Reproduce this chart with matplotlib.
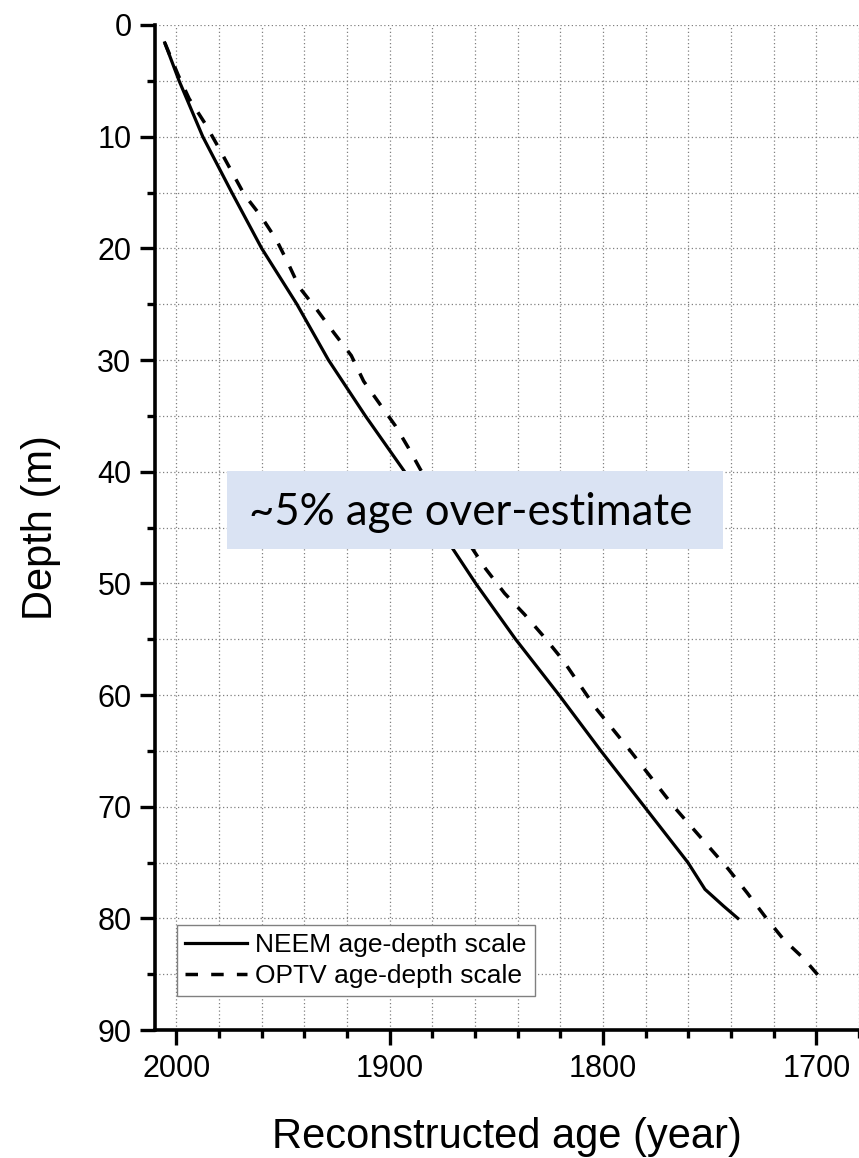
import matplotlib
matplotlib.use('Agg')
import matplotlib.pyplot as plt
from matplotlib.ticker import MultipleLocator
from matplotlib.patches import Rectangle

# NEEM age-depth scale (solid)
neem_depth = [1.6, 5, 10, 15, 20, 25, 30, 35, 40, 45, 50, 55, 60, 65, 70, 75, 77.4, 78.9, 80]
neem_age = [2005.4, 1998.7, 1987.6, 1974.0, 1960.0, 1943.5, 1928.7, 1911.4, 1893.0,
            1877.0, 1859.7, 1841.0, 1820.6, 1801.0, 1780.6, 1760.2, 1752.2, 1743.5, 1736.8]

# OPTV age-depth scale (dashed)
optv_depth = [1.6, 4.5, 6.6, 8.8, 10.9, 13, 15.2, 17.1, 19.2, 21.3, 23.5, 25.5, 27.6, 29.6,
              31.9, 34, 35.9, 37.9, 39.8, 48.7, 50.9, 52.8, 54.8, 56.9, 59, 61.2, 65, 70,
              75.6, 77.7, 79.8, 81.9, 83.6, 85.8]
optv_age = [2005.4, 1999.1, 1994.0, 1986.6, 1980.4, 1974.4, 1968.1, 1960.4, 1953.2, 1947.7,
            1942.3, 1934.1, 1926.0, 1918.0, 1912.2, 1904.4, 1897.3, 1891.1, 1885.6, 1855.0,
            1846.1, 1836.7, 1827.6, 1818.7, 1811.2, 1803.3, 1787.2, 1766.8,
            1741.2, 1732.5, 1724.2, 1715.3, 1705.9, 1696.0]

x_ticks = [2000, 1900, 1800, 1700]
y_ticks = [0, 10, 20, 30, 40, 50, 60, 70, 80, 90]

plt.rcParams['font.family'] = ['Liberation Sans', 'DejaVu Sans']

fig = plt.figure(figsize=(8.59, 11.58), dpi=100)
ax = fig.add_axes([155 / 859, 1 - 1030 / 1158, 704 / 859, 1005 / 1158])

ax.plot(neem_age, neem_depth, color='black', lw=2.3, label='NEEM age-depth scale', zorder=3)
ax.plot(optv_age, optv_depth, color='black', lw=2.5, ls=(0, (3.6, 3.8)),
        label='OPTV age-depth scale', zorder=3)

ax.set_xlim(2010, 1680)
ax.set_ylim(90, 0)
ax.set_xticks(x_ticks)
ax.set_yticks(y_ticks)
ax.xaxis.set_minor_locator(MultipleLocator(20))
ax.yaxis.set_minor_locator(MultipleLocator(5))
ax.grid(which='both', color='#808080', ls=(0, (1, 2)), lw=0.9, zorder=0)
ax.set_axisbelow(True)

for side in ['top', 'right']:
    ax.spines[side].set_visible(False)
for side in ['left', 'bottom']:
    ax.spines[side].set_linewidth(2.6)

ax.tick_params(which='major', direction='out', length=11, width=2.4, labelsize=22, pad=6)
ax.tick_params(which='minor', direction='out', length=6, width=2.4)

ax.set_xlabel('Reconstructed age (year)', fontsize=30, labelpad=24)
ax.set_ylabel('Depth (m)', fontsize=30, labelpad=26)

leg = ax.legend(loc='lower left', bbox_to_anchor=(0.031, 0.034), borderaxespad=0,
                fontsize=19, handlelength=2.35, handletextpad=0.33, labelspacing=0.25,
                borderpad=0.3, fancybox=False, framealpha=1)
leg.get_frame().set_edgecolor('#808080')
leg.get_frame().set_linewidth(1.0)

fig.patches.append(Rectangle((227.3 / 859, 1 - 549 / 1158), 495.4 / 859, 78.3 / 1158,
                             transform=fig.transFigure, facecolor='#DAE3F3',
                             edgecolor='none', zorder=5))
fig.text(249 / 859, 1 - 525 / 1158, '~5% age over-estimate', fontsize=31.5,
         family=['Lato', 'DejaVu Sans'], va='baseline', ha='left', zorder=6)

fig.savefig('out.png', dpi=100)
